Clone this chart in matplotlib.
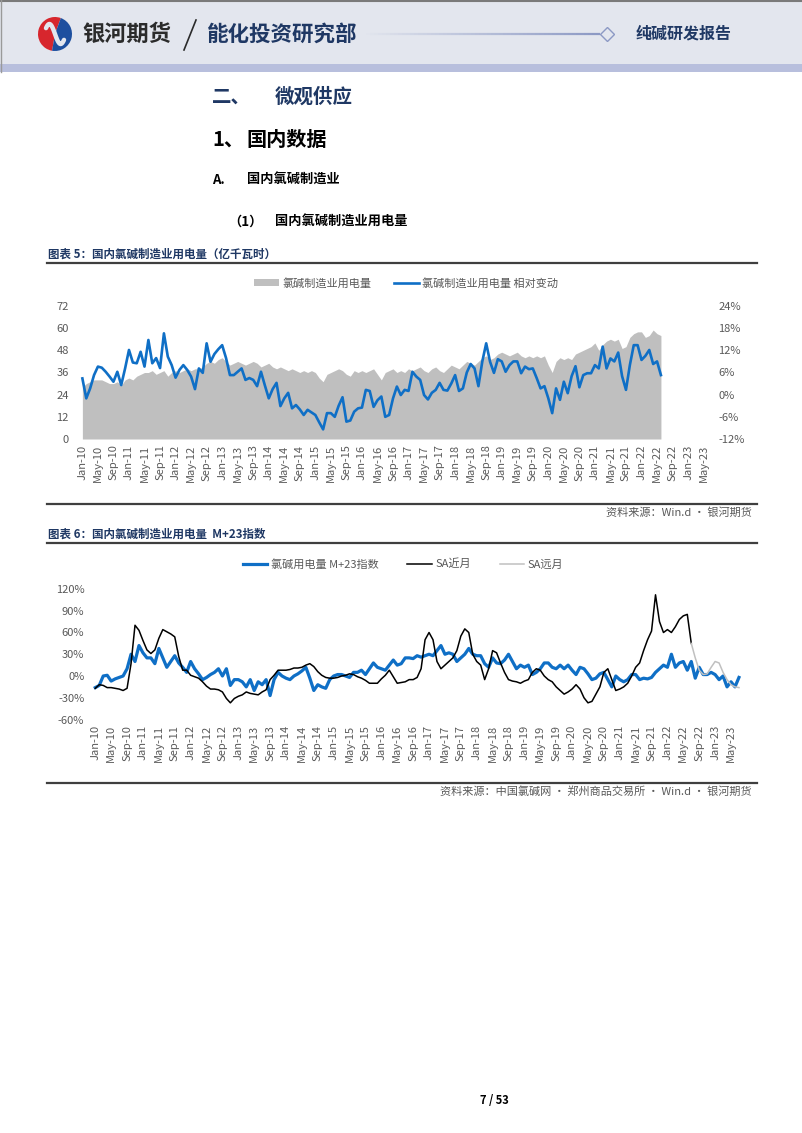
import matplotlib
matplotlib.use("Agg")
import matplotlib.pyplot as plt
import numpy as np
import pandas as pd
from matplotlib.collections import LineCollection
from matplotlib.patches import Rectangle, Wedge

plt.rcParams["font.family"] = ["Noto Sans CJK SC", "DejaVu Sans"]
plt.rcParams["axes.unicode_minus"] = False

W, H = 802, 1133
NAVY = "#1f3864"
GREY_TXT = "#595959"
BLUE = "#0f6fc6"

# ---- chart 5: monthly power use of chlor-alkali industry, Jan-10 .. Jun-22
POWER_USE = [
    28, 30, 31, 32, 32, 32, 31, 30, 30, 31, 29, 32,
    33, 32, 34, 35, 36, 36, 37, 35, 36, 37, 34, 36,
    37, 36, 37, 38, 37, 38, 38, 39, 41, 42, 41, 43,
    44, 42, 40, 41, 42, 41, 40, 41, 42, 41, 39, 40,
    41, 39, 38, 39, 38, 37, 38, 37, 36, 37, 36, 37,
    36, 33, 31, 35, 36, 37, 38, 37, 35, 34, 37, 36,
    37, 36, 37, 38, 35, 32, 36, 37, 38, 36, 37, 36,
    38, 37, 38, 39, 37, 36, 38, 39, 37, 36, 38, 40,
    39, 38, 40, 42, 41, 40, 42, 44, 45, 43, 44, 46,
    47, 46, 45, 46, 47, 45, 44, 45, 44, 45, 44, 45,
    40, 36, 42, 44, 43, 44, 43, 46, 47, 48, 49, 50,
    52, 48, 51, 53, 54, 53, 54, 49, 50, 55, 57, 58,
    58, 55, 56, 59, 57, 56,
]
POWER_CHG = [  # relative change, %
    4.4, -1.0, 1.7, 5.3, 7.6, 7.3, 6.2, 4.9, 3.5, 6.2, 2.6, 7.1,
    12.1, 8.7, 8.5, 11.6, 7.6, 14.8, 8.5, 9.9, 7.2, 16.6, 10.3, 8.0,
    4.6, 6.7, 8.0, 6.7, 4.9, 1.5, 7.1, 5.9, 13.9, 8.9, 11.0, 12.3,
    13.4, 9.9, 5.3, 5.3, 6.2, 7.1, 4.0, 4.5, 4.0, 2.3, 6.2, 2.5,
    -1.0, 1.5, 3.2, -3.1, -1.0, 0.5, -3.7, -2.8, -4.0, -5.5, -4.1, -4.8,
    -5.5, -7.5, -9.4, -5.0, -5.0, -6.0, -3.0, -0.7, -7.3, -7.0, -4.6, -3.7,
    -3.5, 1.3, 1.0, -3.3, -1.5, -0.5, -6.0, -5.5, -1.0, 2.2, -0.1, 1.3,
    1.0, 6.2, 4.9, 4.0, -0.1, -1.3, 0.5, 1.3, 3.2, 1.3, 1.1, 3.0,
    5.3, 1.0, 1.7, 6.0, 8.3, 7.1, 2.3, 9.0, 13.9, 8.9, 5.9, 9.6,
    9.0, 6.2, 8.0, 9.0, 9.0, 5.8, 7.6, 6.9, 7.1, 4.5, 1.7, 2.3,
    -1.0, -5.0, 1.7, -1.4, 3.5, 0.4, 5.0, 7.7, 2.0, 5.3, 5.8, 5.8,
    8.0, 7.1, 13.0, 7.1, 9.8, 9.0, 11.4, 5.0, 1.3, 8.0, 13.4, 13.4,
    9.4, 10.5, 12.1, 8.3, 9.0, 5.3,
]

# ---- chart 6: M+23 index vs SA, %, Jan-10 ..
M23_INDEX = [
    -16, -13, 0, 1, -7, -4, -2, 0, 10, 30, 20, 42,
    32, 25, 25, 17, 38, 25, 12, 20, 28, 18, 12, 5,
    20, 10, 3, -5, -2, 2, 5, 10, 0, 10, -13, -5,
    -5, -8, -15, -5, -20, -8, -12, -5, -27, -5, 5, 0,
    -3, -5, 0, 3, 7, 12, -3, -20, -12, -15, -17, -5,
    0, 2, 2, 0, -2, 5, 5, 8, 2, 10, 18, 12,
    10, 8, 15, 22, 15, 17, 25, 25, 24, 28, 26, 28,
    30, 28, 35, 42, 30, 32, 30, 20, 25, 30, 38, 30,
    28, 28, 17, 12, 25, 18, 17, 22, 30, 20, 10, 15,
    12, 15, 2, 5, 10, 18, 18, 12, 10, 15, 10, 15,
    8, 2, 12, 10, 3, -5, -3, 3, 5, -5, -15, 0,
    -5, -8, -5, 2, 2, -5, -3, -4, -2, 5, 10, 15,
    12, 30, 12, 18, 20, 8, 20, -3, 12, 2, 2, 5,
    2, -5, 0, -15, -8, -15, -2,
]
SA_NEAR = [
    -17, -12, -13, -16, -16, -17, -18, -20, -17, 17, 70, 63,
    49, 36, 31, 36, 52, 64, 61, 58, 54, 27, 8, 8,
    1, -1, -3, -8, -14, -18, -18, -19, -22, -31, -37, -31,
    -28, -26, -22, -24, -25, -26, -22, -19, -5, 1, 8, 8,
    8, 9, 11, 11, 12, 15, 17, 13, 6, 1, -2, -3,
    -3, -2, 0, 1, 3, 2, -1, -3, -6, -10, -10, -10,
    -4, 1, 8, -1, -10, -9, -8, -5, -5, -2, 10, 50,
    60, 50, 20, 10, 15, 20, 25, 35, 55, 65, 60, 30,
    20, 15, -5, 10, 35, 32, 18, 5, -5, -7, -8, -10,
    -7, -5, 5, 10, 8, 0, -5, -8, -15, -20, -25, -22,
    -18, -12, -18, -30, -37, -35, -25, -15, 5, 10, -5, -20,
    -18, -15, -10, 0, 12, 18, 35, 50, 62, 112, 75, 60,
    64, 60, 68, 78, 83, 85, 45,
]
SA_FAR_START = 150
SA_FAR = [45, 25, 8, 2, 3, 12, 20, 18, 5, -5, -12, -15, -16]

TICK_POS = list(range(0, 161, 4))
TICK_LABELS = list(pd.date_range("2010-01-01", periods=len(TICK_POS), freq="4MS").strftime("%b-%y"))


def fx(x):
    return x / W


def fy(y):
    return 1 - y / H


fig = plt.figure(figsize=(W / 100, H / 100), dpi=100)
page = fig.add_axes([0, 0, 1, 1], zorder=0)
page.set_xlim(0, W)
page.set_ylim(H, 0)
page.axis("off")

# ---- header
page.add_patch(Rectangle((0, 0), W, 64, color="#e3e6ee", lw=0))
page.add_patch(Rectangle((0, 64), W, 8, color="#b8bfdd", lw=0))
page.plot([0, W], [0.8, 0.8], color="#7a7a7a", lw=1.5)
page.plot([0.8, 0.8], [0, 72], color="#9a9a9a", lw=1.0)
# logo
cx, cy, r = 55, 34, 17
page.add_patch(Wedge((cx, cy), r, 100, 290, color="#d7262d", lw=0))
page.add_patch(Wedge((cx, cy), r, -70, 100, color="#1d4f9f", lw=0))
t = np.linspace(0, 1, 40)
page.plot(cx - 9 + 18 * t, cy + 10 * np.sin(np.pi * (t - 0.5) * 1.6), color="#e3e6ee", lw=3.2,
          solid_capstyle="round")
page.text(82, 34, "银河期货", fontsize=16, fontweight="bold", color="#2b2b2b", va="center")
page.plot([196, 184], [20, 50], color="#2b2b2b", lw=1.2)
page.text(207, 34, "能化投资研究部", fontsize=15.5, fontweight="bold", color=NAVY, va="center")
xs = np.linspace(362, 600, 60)
segs = [[(xs[i], 34), (xs[i + 1], 34)] for i in range(len(xs) - 1)]
cols = [(0.55, 0.6, 0.77, a) for a in np.linspace(0.0, 1.0, len(segs))]
page.add_collection(LineCollection(segs, colors=cols, lw=1.6))
page.plot([607], [34], marker="D", ms=7, mfc="#e3e6ee", mec="#8c99c4", mew=1.0)
page.text(636, 34, "纯碱研发报告", fontsize=11.5, fontweight="bold", color=NAVY, va="center")

# ---- section titles
page.text(212, 97, "二、", fontsize=14, fontweight="bold", color=NAVY, va="center")
page.text(275, 97, "微观供应", fontsize=14, fontweight="bold", color=NAVY, va="center")
page.text(212, 139, "1、", fontsize=14.5, fontweight="bold", color="black", va="center")
page.text(246, 139, "国内数据", fontsize=14.5, fontweight="bold", color="black", va="center")
page.text(212, 180, "A.", fontsize=9.5, fontweight="bold", color="black", va="center")
page.text(247, 180, "国内氯碱制造业", fontsize=9.5, fontweight="bold", color="black", va="center")
page.text(228, 222, "（1）", fontsize=9.5, fontweight="bold", color="black", va="center")
page.text(275, 222, "国内氯碱制造业用电量", fontsize=9.5, fontweight="bold", color="black", va="center")


def frame(y_title, y_top, y_bottom, title, source):
    page.text(48, y_title, title, fontsize=8.3, fontweight="bold", color=NAVY, va="center")
    page.plot([47, 757], [y_top, y_top], color="#3f3f3f", lw=1.6)
    page.plot([47, 757], [y_bottom, y_bottom], color="#3f3f3f", lw=1.6)
    page.text(752, y_bottom + 9, source, fontsize=8, color=GREY_TXT, ha="right", va="center")


frame(254, 263, 504, "图表 5：国内氯碱制造业用电量（亿千瓦时）", "资料来源：Win.d · 银河期货")
frame(534, 543, 783, "图表 6：国内氯碱制造业用电量  M+23指数",
      "资料来源：中国氯碱网 · 郑州商品交易所 · Win.d · 银河期货")
page.text(494, 1100, "7 / 53", fontsize=8, fontweight="bold", color="black", ha="center", va="center")


def style(ax):
    ax.set_facecolor("none")
    for s in ax.spines.values():
        s.set_visible(False)
    ax.tick_params(length=0, labelsize=8, labelcolor=GREY_TXT)


# ---- chart 5
ax1 = fig.add_axes([fx(78.5), fy(439), fx(632.9), 133 / H], zorder=2)
m1 = np.arange(len(POWER_USE))
area = ax1.fill_between(m1, 0, POWER_USE, color="#bfbfbf", lw=0, label="氯碱制造业用电量")
ax1.set_xlim(-1, 162)
ax1.set_ylim(0, 72)
ax1.set_yticks(range(0, 73, 12))
ax1.set_xticks(TICK_POS)
ax1.set_xticklabels(TICK_LABELS, rotation=90)
style(ax1)
ax1.tick_params(axis="y", pad=7)
ax1.tick_params(axis="x", pad=4)
ax1r = ax1.twinx()
style(ax1r)
line1, = ax1r.plot(np.arange(len(POWER_CHG)), POWER_CHG, color=BLUE, lw=1.9,
                   label="氯碱制造业用电量 相对变动")
ax1r.set_ylim(-12, 24)
ax1r.set_yticks(range(-12, 25, 6))
ax1r.set_yticklabels([f"{v}%" for v in range(-12, 25, 6)])
ax1r.tick_params(axis="y", pad=5)
ax1r.legend(handles=[area, line1], loc="center", bbox_to_anchor=(fx(406), fy(283)),
            bbox_transform=fig.transFigure, ncol=2, frameon=False, fontsize=8,
            labelcolor=GREY_TXT, handlelength=2.3, handleheight=0.6, handletextpad=0.3,
            columnspacing=2.0)

# ---- chart 6
ax2 = fig.add_axes([fx(91.3), fy(719.5), fx(655.6), 130.5 / H], zorder=2)
style(ax2)
l_idx, = ax2.plot(np.arange(len(M23_INDEX)), M23_INDEX, color=BLUE, lw=2.3, label="氯碱用电量 M+23指数")
l_near, = ax2.plot(np.arange(len(SA_NEAR)), SA_NEAR, color="black", lw=1.1, label="SA近月")
l_far, = ax2.plot(np.arange(SA_FAR_START, SA_FAR_START + len(SA_FAR)), SA_FAR, color="#c0c0c0",
                  lw=1.1, label="SA远月")
ax2.set_xlim(-1, 164)
ax2.set_ylim(-60, 120)
ax2.set_yticks(range(-60, 121, 30))
ax2.set_yticklabels([f"{v}%" for v in range(-60, 121, 30)])
ax2.set_xticks(TICK_POS)
ax2.set_xticklabels(TICK_LABELS, rotation=90)
ax2.tick_params(axis="y", pad=5)
ax2.tick_params(axis="x", pad=4)
ax2.legend(handles=[l_idx, l_near, l_far], loc="center", bbox_to_anchor=(fx(403), fy(564)),
           bbox_transform=fig.transFigure, ncol=3, frameon=False, fontsize=8,
           labelcolor=GREY_TXT, handlelength=2.2, handletextpad=0.3, columnspacing=2.6)

fig.savefig("out.png", dpi=100)
